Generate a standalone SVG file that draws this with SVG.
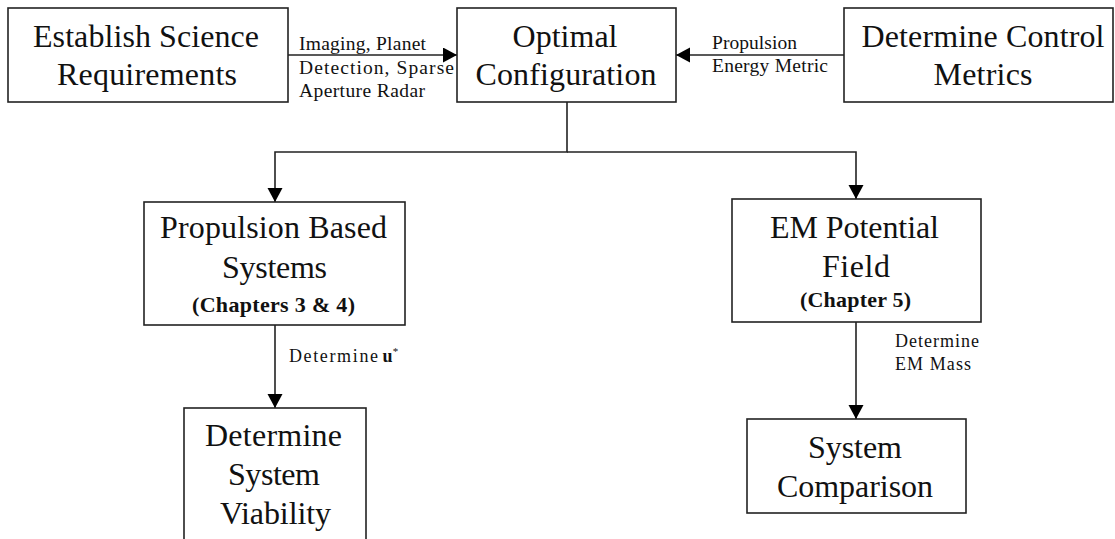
<svg xmlns="http://www.w3.org/2000/svg" width="1115" height="539" viewBox="0 0 1115 539">
<style>
  .box { fill: #ffffff; stroke: #222222; stroke-width: 1.6; }
  .big { font-family: "Liberation Serif", "Times New Roman", serif; font-size: 32px; fill: #111111; text-anchor: middle; }
  .ch { font-family: "Liberation Serif", "Times New Roman", serif; font-size: 22px; font-weight: bold; fill: #111111; text-anchor: middle; }
  .lbl { font-family: "Liberation Serif", "Times New Roman", serif; font-size: 19.5px; fill: #111111; }
  .sm { font-family: "Liberation Serif", "Times New Roman", serif; font-size: 18px; fill: #111111; }
  .conn { fill: none; stroke: #222222; stroke-width: 1.6; }
</style>
<defs>
  <marker id="arr" markerUnits="userSpaceOnUse" markerWidth="15" markerHeight="16" refX="14" refY="7.5" orient="auto">
    <path d="M0,0 L14,7.5 L0,15 z" fill="#000000"/>
  </marker>
</defs>
<rect width="1115" height="539" fill="#ffffff"/>

<g id="connectors">
  <path class="conn" d="M288,55 H457" marker-end="url(#arr)"/>
  <path class="conn" d="M844,55 H676" marker-end="url(#arr)"/>
  <path class="conn" d="M567,102 V152 H275 V202" marker-end="url(#arr)"/>
  <path class="conn" d="M567,152 H856 V199" marker-end="url(#arr)"/>
  <path class="conn" d="M275,325 V408" marker-end="url(#arr)"/>
  <path class="conn" d="M856,322 V419" marker-end="url(#arr)"/>
  <text class="lbl" x="299" y="50" textLength="127" lengthAdjust="spacing">Imaging, Planet</text>
  <text class="lbl" x="299" y="74" textLength="155" lengthAdjust="spacing">Detection, Sparse</text>
  <text class="lbl" x="299" y="97" textLength="126" lengthAdjust="spacing">Aperture Radar</text>
  <text class="lbl" x="712" y="49" textLength="85" lengthAdjust="spacing">Propulsion</text>
  <text class="lbl" x="712" y="72" textLength="116" lengthAdjust="spacing">Energy Metric</text>
  <text class="sm" x="289" y="362"><tspan textLength="89" lengthAdjust="spacing">Determine</tspan><tspan font-weight="bold" dx="3">u</tspan><tspan font-size="11" dy="-7">*</tspan></text>
  <text class="sm" x="895" y="347" textLength="84" lengthAdjust="spacing">Determine</text>
  <text class="sm" x="895" y="370" textLength="76" lengthAdjust="spacing">EM Mass</text>
</g>

<g id="n1">
  <rect class="box" x="8" y="8" width="280" height="94"/>
  <text class="big" x="146" y="47" textLength="226" lengthAdjust="spacing">Establish Science</text>
  <text class="big" x="147" y="85" textLength="180" lengthAdjust="spacing">Requirements</text>
</g>

<g id="n2">
  <rect class="box" x="457" y="8" width="219" height="94"/>
  <text class="big" x="565" y="47" textLength="105" lengthAdjust="spacing">Optimal</text>
  <text class="big" x="566" y="85" textLength="181" lengthAdjust="spacing">Configuration</text>
</g>

<g id="n3">
  <rect class="box" x="844" y="8" width="269" height="94"/>
  <text class="big" x="983" y="47" textLength="243" lengthAdjust="spacing">Determine Control</text>
  <text class="big" x="983" y="85" textLength="99" lengthAdjust="spacing">Metrics</text>
</g>

<g id="n4">
  <rect class="box" x="144" y="202" width="261" height="123"/>
  <text class="big" x="273.5" y="238" textLength="227" lengthAdjust="spacing">Propulsion Based</text>
  <text class="big" x="274.5" y="278" textLength="105" lengthAdjust="spacing">Systems</text>
  <text class="ch" x="273.5" y="312" textLength="163" lengthAdjust="spacing">(Chapters 3 &amp; 4)</text>
</g>

<g id="n5">
  <rect class="box" x="732" y="199" width="249" height="123"/>
  <text class="big" x="854.5" y="238" textLength="169" lengthAdjust="spacing">EM Potential</text>
  <text class="big" x="856" y="277" textLength="68" lengthAdjust="spacing">Field</text>
  <text class="ch" x="855.5" y="307" textLength="111" lengthAdjust="spacing">(Chapter 5)</text>
</g>

<g id="n6">
  <rect class="box" x="184" y="408" width="182" height="140"/>
  <text class="big" x="273.5" y="446" textLength="137" lengthAdjust="spacing">Determine</text>
  <text class="big" x="274" y="485" textLength="92" lengthAdjust="spacing">System</text>
  <text class="big" x="275.5" y="524" textLength="111" lengthAdjust="spacing">Viability</text>
</g>

<g id="n7">
  <rect class="box" x="747" y="419" width="219" height="94"/>
  <text class="big" x="855" y="458" textLength="94" lengthAdjust="spacing">System</text>
  <text class="big" x="855" y="497" textLength="156" lengthAdjust="spacing">Comparison</text>
</g>
</svg>
